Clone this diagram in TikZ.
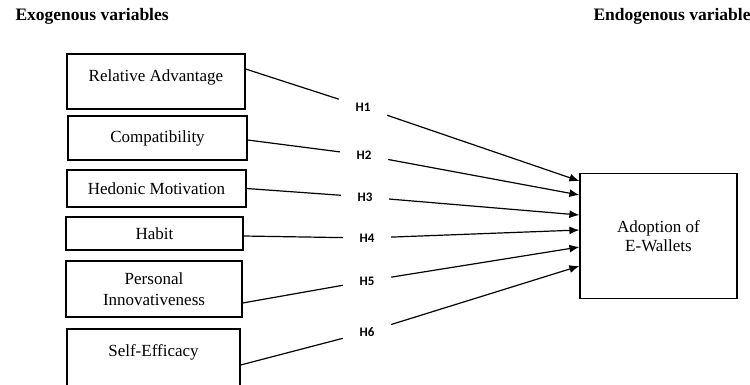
\documentclass[tikz,border=0pt]{standalone}
\usepackage{fontspec}
\setmainfont{Liberation Serif}
\newfontfamily\hypfont{Carlito}
\usetikzlibrary{arrows.meta}

\tikzset{
    varbox/.style={draw, line width=1.2pt, inner sep=0pt, align=center,
        font=\fontsize{17}{21}\selectfont},
    hyplabel/.style={fill=white, inner sep=0pt, minimum width=48pt, minimum height=24pt,
        font=\hypfont\bfseries\fontsize{13}{15}\selectfont},
    link/.style={line width=1.2pt, -{Latex[length=10pt,width=8pt]}},
    headline/.style={anchor=west, font=\bfseries\fontsize{17.5}{20}\selectfont}
}

\begin{document}
\begin{tikzpicture}[x=1pt, y=-1pt]

    % Page frame
    \useasboundingbox (0,0) rectangle (750,384);
    \clip (0,0) rectangle (750,384);

    % Headings
    \node[headline] (exo) at (12,16) {Exogenous variables};
    \node[headline] (endo) at (590,16) {Endogenous variable};

    % Exogenous variables
    \node[varbox, minimum width=178pt, minimum height=55pt] (ra) at (156,81.5) {Relative Advantage\\[-10pt]\mbox{}};
    \node[varbox, minimum width=179pt, minimum height=44pt] (cmp) at (157.5,138) {Compatibility};
    \node[varbox, minimum width=179pt, minimum height=37pt] (hed) at (156.5,188.5) {Hedonic Motivation};
    \node[varbox, minimum width=177pt, minimum height=33pt] (hab) at (154.5,233.5) {Habit};
    \node[varbox, minimum width=176pt, minimum height=56pt] (pin) at (154,289) {Personal\\Innovativeness};
    \node[varbox, minimum width=173pt, minimum height=66pt] (sef) at (153.5,362) {Self-Efficacy\\[2pt]\mbox{}};

    % Endogenous variable
    \node[varbox, minimum width=157pt, minimum height=125pt, font=\fontsize{17}{19}\selectfont] (ado) at (658.5,236) {Adoption of\\E-Wallets};

    % Hypotheses
    \node[hyplabel] (h1) at (363,107) {H1};
    \node[hyplabel] (h2) at (364,155) {H2};
    \node[hyplabel] (h3) at (365,197) {H3};
    \node[hyplabel] (h4) at (367,238) {H4};
    \node[hyplabel] (h5) at (367,281) {H5};
    \node[hyplabel] (h6) at (367,332) {H6};

    % Paths
    \foreach \src/\hyp/\sy/\ey in {ra/h1/12.5/55, cmp/h2/-2/41, hed/h3/0/21,
                                    hab/h4/-2.5/6, pin/h5/-14/-11, sef/h6/-3/-30} {
        \draw[link] ([yshift=\sy pt]\src.east) -- (\hyp) -- ([yshift=\ey pt]ado.west);
    }

\end{tikzpicture}
\end{document}
